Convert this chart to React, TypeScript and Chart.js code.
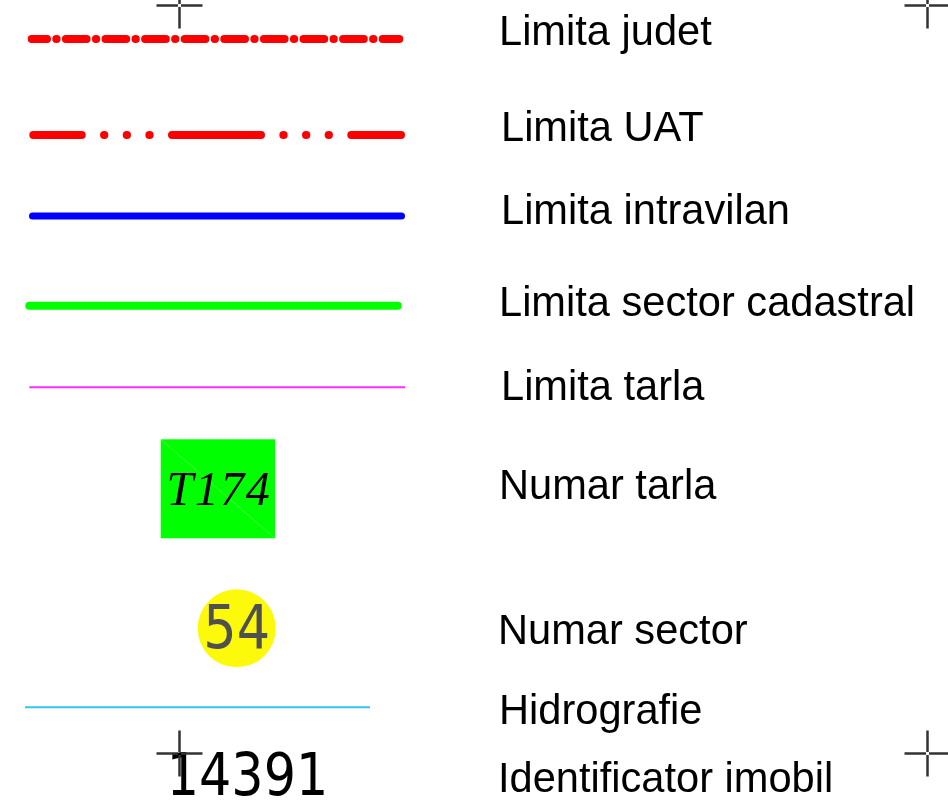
import React, { useEffect, useRef } from "react";
import { Chart, registerables } from "chart.js";

Chart.register(...registerables);

const W = 948;
const H = 809;

// Legend rows (text labels and where their baselines sit, in the 0..948 x 0..809 frame)
const labelTexts = [
  "Limita judet",
  "Limita UAT",
  "Limita intravilan",
  "Limita sector cadastral",
  "Limita tarla",
  "Numar tarla",
  "Numar sector",
  "Hidrografie",
  "Identificator imobil",
];
const labelX = [499, 501, 501, 499, 501, 499, 498, 499, 498];
const labelBaseline = [45, 141, 224, 316, 400, 499, 644, 724, 792];

// Line symbols
const lineNames = ["judet", "UAT", "intravilan", "sector", "tarla", "hidro"];
const lineY = [39, 135, 216, 305.7, 387.3, 707.3];
const lineX0 = [31.7, 33.3, 32.5, 29.3, 29.3, 25];
const lineX1 = [399.3, 401, 401.5, 397.7, 405, 370];
const lineColors = ["#ff0000", "#ff0000", "#0000ff", "#00ff00", "#ff2bff", "#2fc6f5"];
const lineWidths = [8, 8, 7, 8, 2, 2];
const lineDashes: number[][] = [
  [20.7, 9.3, 0.3, 9.3],
  [89, 22.35, 0.3, 22.35, 0.3, 22.35, 0.3, 22.35],
  [],
  [],
  [],
  [],
];
const lineDashOffsets = [5.4, 40.6, 0, 0, 0, 0];

// Tarla number box
const tarlaText = "T174";
const tarlaBox = [160.7, 439.3, 275, 538.3]; // x0, y0, x1, y1
// Sector number circle
const sectorText = "54";
const sectorCenter = [236.7, 628.3];
// Identifier
const imobilText = "14391";

// Registration crosshairs
const crossX = [179.5, 927.5, 179.5, 927.5];
const crossY = [5.5, 5.5, 753.5, 753.5];

const decorPlugin = {
  id: "legendDecor",
  beforeDatasetsDraw(chart: any) {
    const { ctx, scales } = chart;
    const xs = scales.x;
    const ys = scales.y;
    const px = (v: number) => xs.getPixelForValue(v);
    const py = (v: number) => ys.getPixelForValue(v);
    ctx.save();
    const bx0 = px(tarlaBox[0]);
    const by0 = py(tarlaBox[1]);
    const bx1 = px(tarlaBox[2]);
    const by1 = py(tarlaBox[3]);
    ctx.fillStyle = "#00ff00";
    ctx.fillRect(bx0, by0, bx1 - bx0, by1 - by0);
    ctx.strokeStyle = "rgba(255,255,255,0.25)";
    ctx.lineWidth = 1;
    ctx.beginPath();
    ctx.moveTo(bx0, by0);
    ctx.lineTo(bx1, by1);
    ctx.stroke();
    ctx.restore();
  },
  afterDatasetsDraw(chart: any) {
    const { ctx, scales } = chart;
    const xs = scales.x;
    const ys = scales.y;
    const px = (v: number) => xs.getPixelForValue(v);
    const py = (v: number) => ys.getPixelForValue(v);
    ctx.save();
    ctx.fillStyle = "#000000";
    ctx.font = "41.6px 'Liberation Sans', Arial, sans-serif";
    ctx.textAlign = "left";
    ctx.textBaseline = "alphabetic";
    labelTexts.forEach((t, i) => {
      ctx.fillText(t, px(labelX[i]), py(labelBaseline[i]));
    });
    // T174
    ctx.font = "italic 48px 'Liberation Serif', 'DejaVu Serif', serif";
    ctx.textAlign = "center";
    ctx.fillStyle = "#000000";
    try {
      (ctx as any).letterSpacing = "1.5px";
    } catch (e) {}
    ctx.fillText(tarlaText, px((tarlaBox[0] + tarlaBox[2]) / 2 + 1), py(505));
    try {
      (ctx as any).letterSpacing = "0px";
    } catch (e) {}
    // 54
    ctx.save();
    ctx.translate(px(sectorCenter[0]), py(648));
    ctx.scale(0.86, 1);
    ctx.font = "61px 'DejaVu Sans', Verdana, sans-serif";
    ctx.fillStyle = "#505050";
    ctx.textAlign = "center";
    ctx.fillText(sectorText, 0, 0);
    ctx.restore();
    // 14391
    ctx.save();
    ctx.translate(px(247.5), py(795));
    ctx.scale(0.86, 1);
    ctx.font = "59px 'DejaVu Sans', Verdana, sans-serif";
    ctx.fillStyle = "#000000";
    ctx.textAlign = "center";
    ctx.fillText(imobilText, 0, 0);
    ctx.restore();
    // crosshairs
    ctx.strokeStyle = "#333333";
    ctx.lineWidth = 2.5;
    ctx.lineCap = "butt";
    const arm = 23;
    const gap = 1.5;
    crossX.forEach((cx, i) => {
      const x = px(cx);
      const y = py(crossY[i]);
      ctx.beginPath();
      ctx.moveTo(x - arm, y);
      ctx.lineTo(x - gap, y);
      ctx.moveTo(x + gap, y);
      ctx.lineTo(x + arm, y);
      ctx.moveTo(x, y - arm);
      ctx.lineTo(x, y - gap);
      ctx.moveTo(x, y + gap);
      ctx.lineTo(x, y + arm);
      ctx.stroke();
    });
    ctx.restore();
  },
};

export default function App() {
  const ref = useRef<HTMLCanvasElement | null>(null);
  useEffect(() => {
    if (!ref.current) return;
    const datasets: any[] = lineNames.map((name, i) => ({
      label: name,
      type: "line",
      data: [
        { x: lineX0[i], y: lineY[i] },
        { x: lineX1[i], y: lineY[i] },
      ],
      borderColor: lineColors[i],
      borderWidth: lineWidths[i],
      borderDash: lineDashes[i],
      borderDashOffset: lineDashOffsets[i],
      borderCapStyle: lineWidths[i] > 3 ? "round" : "butt",
      pointRadius: 0,
      showLine: true,
      fill: false,
      tension: 0,
      clip: false,
    }));
    datasets.push({
      label: "sector",
      type: "scatter",
      data: [{ x: sectorCenter[0], y: sectorCenter[1] }],
      pointRadius: 39,
      pointBackgroundColor: "#fdf90a",
      pointBorderWidth: 0,
      pointBorderColor: "rgba(0,0,0,0)",
      clip: false,
    });
    const chart = new Chart(ref.current, {
      type: "scatter",
      data: { datasets },
      options: {
        animation: false,
        responsive: false,
        devicePixelRatio: 1,
        layout: { padding: 0, autoPadding: false },
        plugins: { legend: { display: false }, tooltip: { enabled: false } },
        events: [],
        scales: {
          x: { type: "linear", min: 0, max: W, display: false },
          y: { type: "linear", min: 0, max: H, reverse: true, display: false },
        },
      },
      plugins: [decorPlugin],
    } as any);
    return () => chart.destroy();
  }, []);
  return (
    <div style={{ position: "fixed", left: 0, top: 0, width: W, height: H, background: "#ffffff" }}>
      <canvas ref={ref} width={W} height={H} style={{ display: "block", width: W, height: H }} />
    </div>
  );
}
